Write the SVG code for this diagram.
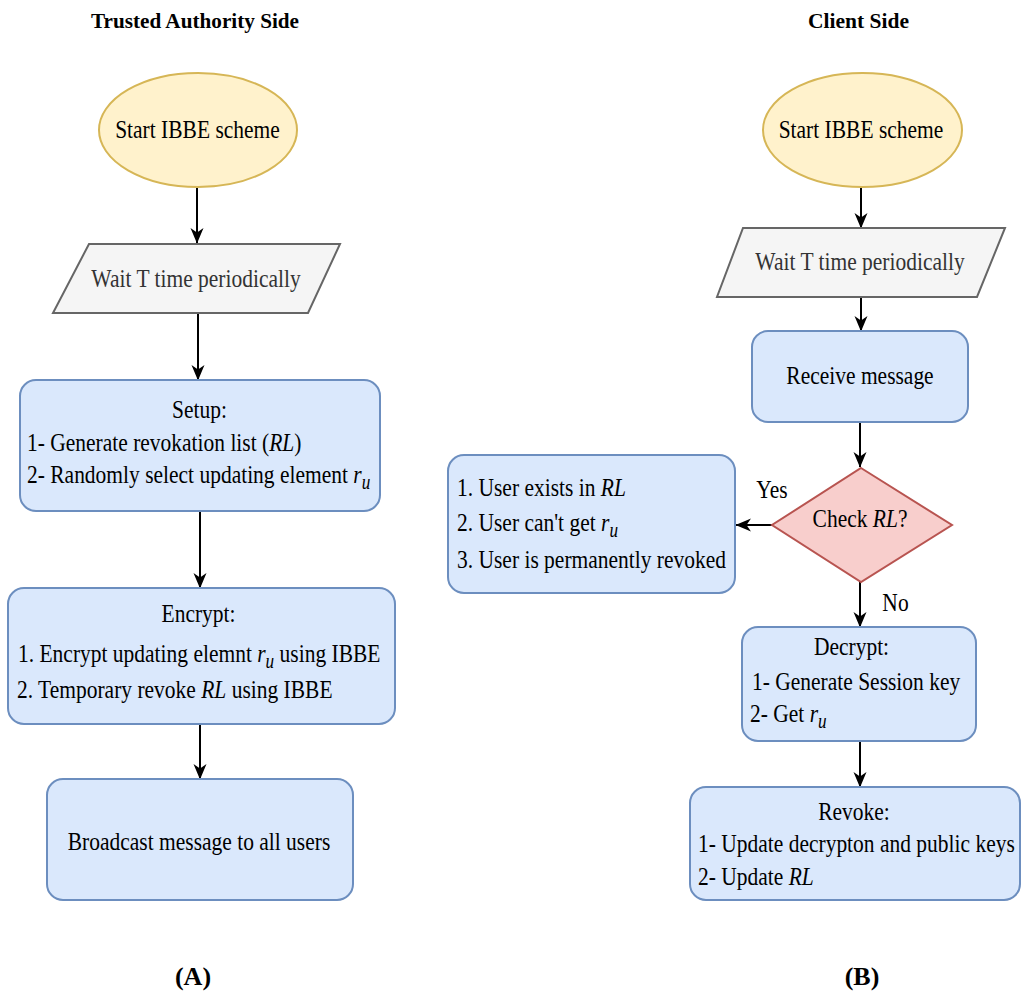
<svg xmlns="http://www.w3.org/2000/svg" width="1022" height="995" viewBox="0 0 1022 995">
<defs>
<style>
text{font-family:"Liberation Serif","Times New Roman",serif;fill:#000}
.t{font-size:25px}
.c{text-anchor:middle}
.g{fill:#333333}
.h{font-size:22px;font-weight:bold;text-anchor:middle}
.box{fill:#dae8fc;stroke:#6c8ebf;stroke-width:2}
.ell{fill:#fff2cc;stroke:#d6b656;stroke-width:2}
.par{fill:#f5f5f5;stroke:#666666;stroke-width:2}
.dia{fill:#f8cecc;stroke:#b85450;stroke-width:2}
.e{stroke:#000;stroke-width:2;fill:none;marker-end:url(#arr)}
.i{font-style:italic}
</style>
<marker id="arr" markerWidth="16" markerHeight="14" refX="15" refY="7" orient="auto" markerUnits="userSpaceOnUse">
<path d="M0,0.5 L15.5,7 L0,13.5 L4.5,7 Z" fill="#000"/>
</marker>
</defs>
<rect width="1022" height="995" fill="#ffffff"/>

<text class="h" x="195" y="28" textLength="208" lengthAdjust="spacingAndGlyphs">Trusted Authority Side</text>
<text class="h" x="858.5" y="28" textLength="101" lengthAdjust="spacingAndGlyphs">Client Side</text>
<text class="h" x="193" y="985" style="font-size:26px">(A)</text>
<text class="h" x="862" y="985" style="font-size:26px">(B)</text>

<g id="connectors">
<line class="e" x1="197" y1="188" x2="197" y2="243"/>
<line class="e" x1="198" y1="313" x2="198" y2="380"/>
<line class="e" x1="200" y1="512" x2="200" y2="588"/>
<line class="e" x1="200" y1="724" x2="200" y2="779"/>
<line class="e" x1="861" y1="188" x2="861" y2="228"/>
<line class="e" x1="861" y1="297" x2="861" y2="331"/>
<line class="e" x1="860" y1="422" x2="860" y2="467"/>
<line class="e" x1="772" y1="525" x2="736" y2="525"/>
<line class="e" x1="860" y1="582" x2="860" y2="627"/>
<line class="e" x1="860" y1="741" x2="860" y2="787"/>
<text class="t" transform="translate(772,498) scale(0.86,1)" text-anchor="middle">Yes</text>
<text class="t" transform="translate(895.5,611) scale(0.86,1)" text-anchor="middle">No</text>
</g>

<g id="startA">
<ellipse class="ell" cx="198" cy="130" rx="99" ry="57"/>
<text class="t c" transform="translate(197.5,138) scale(0.86,1)">Start IBBE scheme</text>
</g>
<g id="waitA">
<polygon class="par" points="89,244 340,244 308,313 53,313"/>
<text class="t c g" transform="translate(196,287) scale(0.86,1)">Wait T time periodically</text>
</g>
<g id="setup">
<rect class="box" x="20" y="380" width="360" height="131" rx="16"/>
<text class="t c" transform="translate(199.5,418) scale(0.86,1)">Setup:</text>
<text class="t" transform="translate(27,451) scale(0.86,1)">1- Generate revokation list (<tspan class="i">RL</tspan>)</text>
<text class="t" transform="translate(27,483) scale(0.86,1)">2- Randomly select updating element <tspan class="i">r</tspan><tspan class="i" font-size="20" dy="6">u</tspan></text>
</g>
<g id="encrypt">
<rect class="box" x="8" y="588" width="387" height="136" rx="16"/>
<text class="t c" transform="translate(198.5,622) scale(0.86,1)">Encrypt:</text>
<text class="t" transform="translate(18,662) scale(0.86,1)">1. Encrypt updating elemnt <tspan class="i">r</tspan><tspan class="i" font-size="20" dy="6">u</tspan><tspan dy="-6"> using IBBE</tspan></text>
<text class="t" transform="translate(17,698) scale(0.86,1)">2. Temporary revoke <tspan class="i">RL</tspan> using IBBE</text>
</g>
<g id="broadcast">
<rect class="box" x="47" y="779" width="306" height="121" rx="16"/>
<text class="t c" transform="translate(199,850) scale(0.86,1)">Broadcast message to all users</text>
</g>

<g id="startB">
<ellipse class="ell" cx="862.5" cy="130" rx="99.5" ry="57"/>
<text class="t c" transform="translate(861,138) scale(0.86,1)">Start IBBE scheme</text>
</g>
<g id="waitB">
<polygon class="par" points="743,228 1005,228 977,297 717,297"/>
<text class="t c g" transform="translate(860,270) scale(0.86,1)">Wait T time periodically</text>
</g>
<g id="receive">
<rect class="box" x="752" y="331" width="216" height="91" rx="16"/>
<text class="t c" transform="translate(860,384) scale(0.86,1)">Receive message</text>
</g>
<g id="check">
<polygon class="dia" points="861,468 952,525 861,582 772,525"/>
<text class="t c" transform="translate(860,527) scale(0.86,1)">Check <tspan class="i">RL</tspan>?</text>
</g>
<g id="revokedUser">
<rect class="box" x="448" y="455" width="287" height="138" rx="16"/>
<text class="t" transform="translate(457,496) scale(0.86,1)">1. User exists in <tspan class="i">RL</tspan></text>
<text class="t" transform="translate(457,531) scale(0.86,1)">2. User can't get <tspan class="i">r</tspan><tspan class="i" font-size="20" dy="6">u</tspan></text>
<text class="t" transform="translate(457,568) scale(0.86,1)">3. User is permanently revoked</text>
</g>
<g id="decrypt">
<rect class="box" x="742" y="627" width="234" height="114" rx="16"/>
<text class="t c" transform="translate(851.5,655) scale(0.86,1)">Decrypt:</text>
<text class="t" transform="translate(752,690) scale(0.86,1)">1- Generate Session key</text>
<text class="t" transform="translate(750,722) scale(0.86,1)">2- Get <tspan class="i">r</tspan><tspan class="i" font-size="20" dy="6">u</tspan></text>
</g>
<g id="revoke">
<rect class="box" x="690" y="787" width="330" height="113" rx="16"/>
<text class="t c" transform="translate(854,820) scale(0.86,1)">Revoke:</text>
<text class="t" transform="translate(698,852) scale(0.86,1)">1- Update decrypton and public keys</text>
<text class="t" transform="translate(698,885) scale(0.86,1)">2- Update <tspan class="i">RL</tspan></text>
</g>
</svg>
